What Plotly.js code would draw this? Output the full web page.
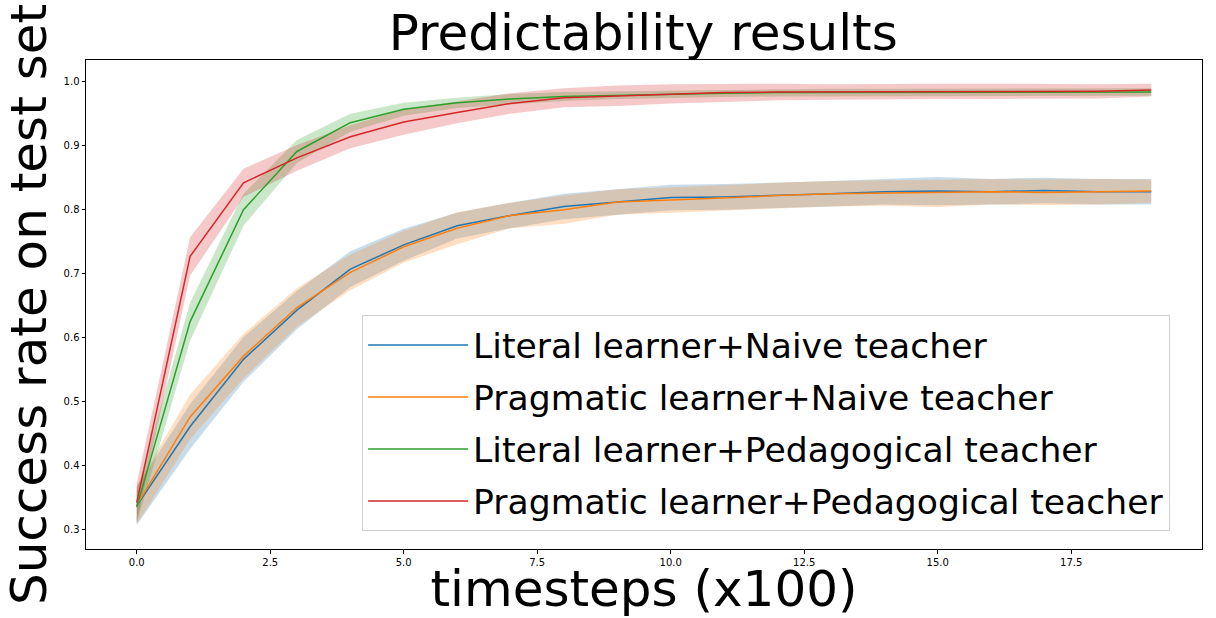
<!DOCTYPE html>
<html>
<head>
<meta charset="utf-8">
<script src="https://cdn.plot.ly/plotly-3.0.1.min.js"></script>
<style>html,body{margin:0;padding:0;background:#fff;}#chart{width:1216px;height:618px;}</style>
</head>
<body>
<div id="chart"></div>
<script>
const steps = [0,1,2,3,4,5,6,7,8,9,10,11,12,13,14,15,16,17,18,19];
const seriesNames = ["Literal learner+Naive teacher","Pragmatic learner+Naive teacher","Literal learner+Pedagogical teacher","Pragmatic learner+Pedagogical teacher"];
const literalNaive = [0.337,0.461,0.566,0.643,0.707,0.745,0.775,0.791,0.805,0.812,0.819,0.820,0.822,0.825,0.828,0.829,0.828,0.830,0.828,0.828];
const pragmaticNaive = [0.338,0.476,0.571,0.647,0.702,0.742,0.771,0.791,0.800,0.812,0.815,0.819,0.822,0.825,0.826,0.826,0.828,0.827,0.828,0.829];
const literalPed = [0.335,0.625,0.800,0.891,0.936,0.957,0.967,0.973,0.977,0.979,0.981,0.982,0.983,0.983,0.983,0.983,0.983,0.983,0.983,0.984];
const pragmaticPed = [0.342,0.727,0.842,0.881,0.914,0.937,0.952,0.966,0.975,0.978,0.981,0.983,0.984,0.984,0.985,0.985,0.985,0.985,0.985,0.987];
const literalNaiveStd = [0.03,0.035,0.035,0.03,0.028,0.025,0.02,0.02,0.02,0.02,0.02,0.02,0.02,0.02,0.02,0.022,0.02,0.02,0.02,0.02];
const pragmaticNaiveStd = [0.03,0.035,0.035,0.03,0.028,0.025,0.025,0.02,0.022,0.02,0.02,0.02,0.02,0.02,0.02,0.022,0.02,0.02,0.02,0.018];
const literalPedStd = [0.025,0.03,0.025,0.018,0.014,0.01,0.008,0.008,0.007,0.006,0.006,0.006,0.006,0.006,0.006,0.006,0.006,0.006,0.006,0.006];
const pragmaticPedStd = [0.03,0.03,0.022,0.02,0.018,0.02,0.017,0.016,0.015,0.016,0.015,0.014,0.013,0.012,0.012,0.012,0.012,0.011,0.011,0.01];

const means = [literalNaive, pragmaticNaive, literalPed, pragmaticPed];
const stds = [literalNaiveStd, pragmaticNaiveStd, literalPedStd, pragmaticPedStd];
const colors = ["#1f77b4","#ff7f0e","#2ca02c","#d62728"];
const fills = ["rgba(31,119,180,0.25)","rgba(255,127,14,0.25)","rgba(44,160,44,0.25)","rgba(214,39,40,0.25)"];

const traces = [];
for (let k = 0; k < 4; k++) {
  const up = means[k].map((v,i)=>v+stds[k][i]);
  const lo = means[k].map((v,i)=>v-stds[k][i]);
  traces.push({x: steps, y: up, mode:'lines', line:{width:0, color:fills[k]}, showlegend:false, hoverinfo:'skip', type:'scatter'});
  traces.push({x: steps, y: lo, mode:'lines', line:{width:0, color:fills[k]}, fill:'tonexty', fillcolor:fills[k], showlegend:false, hoverinfo:'skip', type:'scatter'});
}
for (let k = 0; k < 4; k++) {
  traces.push({x: steps, y: means[k], mode:'lines', name: seriesNames[k], legendgroup:'g'+k, line:{color:colors[k], width:1.5}, type:'scatter'});
}

const layout = {
  width:1216, height:618,
  margin:{l:85.5, r:14, t:60, b:69},
  paper_bgcolor:'#fff', plot_bgcolor:'#fff',
  font:{family:'DejaVu Sans', color:'#000'},
  title:{text:'Predictability results', font:{size:50, family:'DejaVu Sans'}, x:0.529, xanchor:'center', y:0.947, yanchor:'middle'},
  xaxis:{
    range:[-0.95,19.95], tickvals:[0,2.5,5,7.5,10,12.5,15,17.5], ticktext:['0.0','2.5','5.0','7.5','10.0','12.5','15.0','17.5'],
    showgrid:false, zeroline:false, showline:true, linecolor:'#000', linewidth:1, mirror:true,
    ticks:'outside', ticklen:3.5, tickcolor:'#000', tickfont:{size:10},
    title:{text:'timesteps (x100)', font:{size:50}, standoff:8}
  },
  yaxis:{
    range:[0.2695,1.034], tickvals:[0.3,0.4,0.5,0.6,0.7,0.8,0.9,1.0], ticktext:['0.3','0.4','0.5','0.6','0.7','0.8','0.9','1.0'],
    showgrid:false, zeroline:false, showline:true, linecolor:'#000', linewidth:1, mirror:true,
    ticks:'outside', ticklen:3.5, tickcolor:'#000', tickfont:{size:10},
    title:{text:'Success rate on test set', font:{size:50}, standoff:4}
  },
  showlegend:true,
  legend:{x:0.2474, y:0.0368, xanchor:'left', yanchor:'bottom', traceorder:'grouped', tracegroupgap:4, bgcolor:'rgba(255,255,255,0.8)', bordercolor:'#d0d0d0', borderwidth:1, font:{size:34.6}, itemwidth:100}
};
Plotly.newPlot('chart', traces, layout, {displayModeBar:false, staticPlot:true});
</script>
</body>
</html>
